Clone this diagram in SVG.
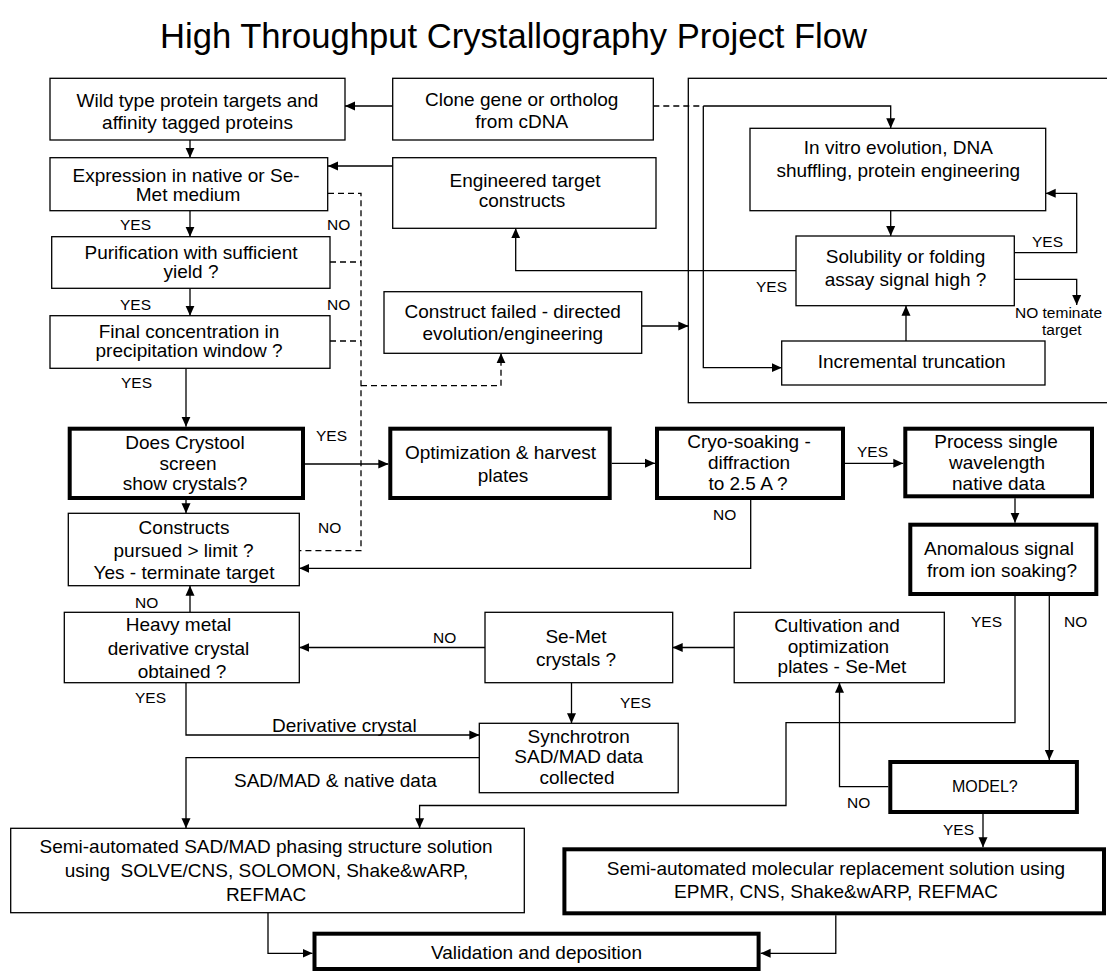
<svg xmlns="http://www.w3.org/2000/svg" width="1107" height="973" viewBox="0 0 1107 973">
<style>
text{font-family:"Liberation Sans",Arial,sans-serif;fill:#000}
.t{font-size:19px;text-anchor:middle}
.l{font-size:15.5px}
.m{font-size:19px}
.b{fill:#fff;stroke:#000;stroke-width:1.3}
.k{fill:#fff;stroke:#000;stroke-width:4}
.c{fill:none;stroke:#000;stroke-width:1.3}
.d{fill:none;stroke:#000;stroke-width:1.3;stroke-dasharray:6 4}
</style>
<defs>
<marker id="ah" viewBox="0 0 10 10" refX="10" refY="5" markerWidth="10" markerHeight="10" markerUnits="userSpaceOnUse" orient="auto"><path d="M0,0.5 L10,5 L0,9.5 z" fill="#000"/></marker>
</defs>
<rect width="1107" height="973" fill="#fff"/>
<text x="160" y="48" font-size="34.5" textLength="707" lengthAdjust="spacingAndGlyphs">High Throughput Crystallography Project Flow</text>

<rect id="outer-frame" x="688.3" y="78.3" width="430" height="324.4" class="c"/>

<g id="connectors">
<path class="c" d="M392.7,106 H345" marker-end="url(#ah)"/>
<path class="d" d="M653.3,106 H703.3"/>
<path class="c" d="M703.3,106 H890.7 V128.3" marker-end="url(#ah)"/>
<path class="c" d="M703.3,106 V367.7 H781.7" marker-end="url(#ah)"/>
<path class="c" d="M190,140 V157.7" marker-end="url(#ah)"/>
<path class="c" d="M392.7,166 H328" marker-end="url(#ah)"/>
<path class="c" d="M190,210.7 V236.7" marker-end="url(#ah)"/>
<path class="c" d="M190,288.3 V315.7" marker-end="url(#ah)"/>
<path class="d" d="M328,193.3 H361 V550.7 H299.3"/>
<path class="d" d="M330,262 H361"/>
<path class="d" d="M330,341 H361"/>
<path class="d" d="M361,385.7 H501 V353.3" marker-end="url(#ah)"/>
<path class="c" d="M186,368.3 V426.7" marker-end="url(#ah)"/>
<path class="c" d="M305,464 H388.3" marker-end="url(#ah)"/>
<path class="c" d="M186,500 V513.3" marker-end="url(#ah)"/>
<path class="c" d="M611.7,463.3 H655" marker-end="url(#ah)"/>
<path class="c" d="M845,463.3 H903.3" marker-end="url(#ah)"/>
<path class="c" d="M750.7,500 V568.3 H299.3" marker-end="url(#ah)"/>
<path class="c" d="M190,612.3 V585.7" marker-end="url(#ah)"/>
<path class="c" d="M485,647.5 H299.3" marker-end="url(#ah)"/>
<path class="c" d="M734.2,647.5 H672.7" marker-end="url(#ah)"/>
<path class="c" d="M571.5,682.7 V723.3" marker-end="url(#ah)"/>
<path class="c" d="M186,682.7 V735 H479.3" marker-end="url(#ah)"/>
<path class="c" d="M479.3,757.7 H186 V828.3" marker-end="url(#ah)"/>
<path class="c" d="M1015,498.3 V522.7" marker-end="url(#ah)"/>
<path class="c" d="M1015,596 V722.7 H786 V805.5 H419.6 V828.3" marker-end="url(#ah)"/>
<path class="c" d="M1049.3,596 V760" marker-end="url(#ah)"/>
<path class="c" d="M888.3,786.7 H839.5 V682.7" marker-end="url(#ah)"/>
<path class="c" d="M983,814 V847.3" marker-end="url(#ah)"/>
<path class="c" d="M268,912.7 V953.3 H312.5" marker-end="url(#ah)"/>
<path class="c" d="M835.8,915.3 V953.3 H760.6" marker-end="url(#ah)"/>
<path class="c" d="M890.7,210.7 V236" marker-end="url(#ah)"/>
<path class="c" d="M1014.3,252.7 H1076.7 V193.3 H1045.7" marker-end="url(#ah)"/>
<path class="c" d="M1014.3,279.3 H1076.7 V305" marker-end="url(#ah)"/>
<path class="c" d="M796,270.7 H515.7 V228.3" marker-end="url(#ah)"/>
<path class="c" d="M641.7,326 H688.3" marker-end="url(#ah)"/>
<path class="c" d="M906,341 V305.7" marker-end="url(#ah)"/>
</g>

<g id="labels">
<text class="l" x="120" y="230">YES</text>
<text class="l" x="327" y="230">NO</text>
<text class="l" x="120" y="310">YES</text>
<text class="l" x="327" y="310">NO</text>
<text class="l" x="121" y="388">YES</text>
<text class="l" x="316" y="441">YES</text>
<text class="l" x="318" y="533">NO</text>
<text class="l" x="135" y="608">NO</text>
<text class="l" x="433" y="643">NO</text>
<text class="l" x="135" y="703">YES</text>
<text class="l" x="620" y="708">YES</text>
<text class="l" x="713" y="520">NO</text>
<text class="l" x="857" y="457">YES</text>
<text class="l" x="971" y="627">YES</text>
<text class="l" x="1064" y="627">NO</text>
<text class="l" x="847" y="808">NO</text>
<text class="l" x="943" y="835">YES</text>
<text class="l" x="1032" y="247">YES</text>
<text class="l" x="756" y="292">YES</text>
<text class="l" x="1015" y="318">NO teminate</text>
<text class="l" x="1042" y="335">target</text>
<text class="m" x="272" y="732">Derivative crystal</text>
<text class="m" x="234" y="787">SAD/MAD &amp; native data</text>
</g>

<g id="wild-type">
<rect class="b" x="50" y="78.3" width="295" height="61.7"/>
<text class="t" x="197.5" y="106.7">Wild type protein targets and</text>
<text class="t" x="197.5" y="129">affinity tagged proteins</text>
</g>
<g id="clone">
<rect class="b" x="392.7" y="78.3" width="260.6" height="61.7"/>
<text class="t" x="521.7" y="105.7">Clone gene or ortholog</text>
<text class="t" x="521.7" y="128.3">from cDNA</text>
</g>
<g id="expression">
<rect class="b" x="50" y="157.7" width="277.7" height="53"/>
<text class="t" x="186" y="181.7">Expression in native or Se-</text>
<text class="t" x="188" y="200.7">Met medium</text>
</g>
<g id="engineered">
<rect class="b" x="392.7" y="157.7" width="263.3" height="70.6"/>
<text class="t" x="525" y="186.7">Engineered target</text>
<text class="t" x="522" y="206.7">constructs</text>
</g>
<g id="purification">
<rect class="b" x="51.7" y="236.7" width="278.3" height="51.6"/>
<text class="t" x="191" y="259">Purification with sufficient</text>
<text class="t" x="191" y="278">yield ?</text>
</g>
<g id="final-concentration">
<rect class="b" x="50" y="315.7" width="280" height="52.6"/>
<text class="t" x="189" y="337.7">Final concentration in</text>
<text class="t" x="189" y="356.7">precipitation window ?</text>
</g>
<g id="construct-failed">
<rect class="b" x="384" y="291.7" width="257.7" height="61.6"/>
<text class="t" x="512.7" y="318.3">Construct failed - directed</text>
<text class="t" x="512.7" y="340">evolution/engineering</text>
</g>
<g id="in-vitro">
<rect class="b" x="750" y="128.3" width="295.7" height="82.4"/>
<text class="t" x="898.3" y="154">In vitro evolution, DNA</text>
<text class="t" x="898.3" y="177.3">shuffling, protein engineering</text>
</g>
<g id="solubility">
<rect class="b" x="796" y="236" width="218.3" height="69.7"/>
<text class="t" x="905.5" y="263.3">Solubility or folding</text>
<text class="t" x="905.5" y="286">assay signal high ?</text>
</g>
<g id="incremental">
<rect class="b" x="781.7" y="341" width="263.3" height="44"/>
<text class="t" x="911.7" y="368.3">Incremental truncation</text>
</g>
<g id="crystool">
<rect class="k" x="69.7" y="428.7" width="233.3" height="69.3"/>
<text class="t" x="185" y="449">Does Crystool</text>
<text class="t" x="188" y="470">screen</text>
<text class="t" x="185" y="490">show crystals?</text>
</g>
<g id="optimization">
<rect class="k" x="390.3" y="428.7" width="219.4" height="69.3"/>
<text class="t" x="500.5" y="459.3">Optimization &amp; harvest</text>
<text class="t" x="503" y="481.7">plates</text>
</g>
<g id="cryo">
<rect class="k" x="657" y="428.7" width="186" height="69.3"/>
<text class="t" x="749" y="448.3">Cryo-soaking -</text>
<text class="t" x="749" y="469.3">diffraction</text>
<text class="t" x="748" y="490">to 2.5 A ?</text>
</g>
<g id="process">
<rect class="k" x="905.3" y="428.7" width="186.7" height="67.6"/>
<text class="t" x="996" y="448.3">Process single</text>
<text class="t" x="997" y="469.3">wavelength</text>
<text class="t" x="998.5" y="490">native data</text>
</g>
<g id="anomalous">
<rect class="k" x="910.3" y="524.7" width="186" height="69.3"/>
<text class="t" x="999" y="555">Anomalous signal</text>
<text class="t" x="1002" y="577.3">from ion soaking?</text>
</g>
<g id="constructs">
<rect class="b" x="68.3" y="513.3" width="231" height="72.4"/>
<text class="t" x="184" y="534">Constructs</text>
<text class="t" x="183.5" y="556.7">pursued &gt; limit ?</text>
<text class="t" x="184" y="579">Yes - terminate target</text>
</g>
<g id="heavy-metal">
<rect class="b" x="64.3" y="612.3" width="235" height="70.4"/>
<text class="t" x="178.5" y="630.7">Heavy metal</text>
<text class="t" x="178.5" y="654.5">derivative crystal</text>
<text class="t" x="182" y="677.5">obtained ?</text>
</g>
<g id="se-met">
<rect class="b" x="485" y="612.3" width="187.7" height="70.4"/>
<text class="t" x="576" y="643.3">Se-Met</text>
<text class="t" x="576" y="665.7">crystals ?</text>
</g>
<g id="cultivation">
<rect class="b" x="734.2" y="612.3" width="210.1" height="70.4"/>
<text class="t" x="837" y="632.3">Cultivation and</text>
<text class="t" x="838.5" y="653.3">optimization</text>
<text class="t" x="842" y="673.3">plates - Se-Met</text>
</g>
<g id="synchrotron">
<rect class="b" x="479.3" y="723.3" width="198.9" height="69.4"/>
<text class="t" x="578.7" y="743.3">Synchrotron</text>
<text class="t" x="578.7" y="763.3">SAD/MAD data</text>
<text class="t" x="577" y="784">collected</text>
</g>
<g id="model">
<rect class="k" x="890.3" y="762" width="186.6" height="50"/>
<text x="984.8" y="791.7" font-size="16" text-anchor="middle">MODEL?</text>
</g>
<g id="phasing">
<rect class="b" x="10.7" y="828.3" width="513.6" height="84.4"/>
<text class="t" x="266" y="853.3">Semi-automated SAD/MAD phasing structure solution</text>
<text class="t" x="266.5" y="877.3" xml:space="preserve">using  SOLVE/CNS, SOLOMON, Shake&amp;wARP,</text>
<text class="t" x="266" y="901">REFMAC</text>
</g>
<g id="molecular-replacement">
<rect class="k" x="564.4" y="849.3" width="539.6" height="64"/>
<text class="t" x="836" y="875">Semi-automated molecular replacement solution using</text>
<text class="t" x="836" y="898.3">EPMR, CNS, Shake&amp;wARP, REFMAC</text>
</g>
<g id="validation">
<rect class="k" x="314.5" y="933.7" width="444.1" height="35.3"/>
<text class="t" x="536.5" y="959">Validation and deposition</text>
</g>
</svg>
